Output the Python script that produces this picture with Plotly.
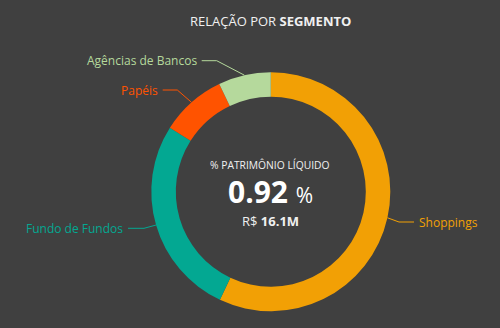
import math
import plotly.graph_objects as go

# ---- data ----
segments = ["Shoppings", "Fundo de Fundos", "Papéis", "Agências de Bancos"]
values = [57.0, 27.0, 8.9, 7.1]
colors = ["#F2A005", "#03A892", "#FF5300", "#B5D99C"]
title_light = "RELAÇÃO POR "
title_bold = "SEGMENTO"
center_label = "% PATRIMÔNIO LÍQUIDO"
center_value = "0.92"
center_money = "16.1M"

# ---- layout constants (pixels) ----
W, H = 500, 328
cx, cy, R = 270.8, 191.7, 119.5
hole = 0.795
FONT = "Open Sans"
BG = "#404040"
# elbow / label geometry per segment: (elbow_x, elbow_y, end_x, side)
label_geo = {
    "Shoppings": (399, 222, 414, "left"),
    "Fundo de Fundos": (144, 228.3, 128, "right"),
    "Papéis": (177.3, 90, 162.7, "right"),
    "Agências de Bancos": (216.7, 60.7, 201.7, "right"),
}

def px(x):
    return x / W

def py(y):
    return 1 - y / H

fig = go.Figure()
fig.add_trace(go.Pie(
    labels=segments, values=values, hole=hole, sort=False,
    direction="clockwise", rotation=0,
    marker=dict(colors=colors, line=dict(width=0)),
    textinfo="none", hoverinfo="label+percent", showlegend=False,
    domain=dict(x=[px(cx - R), px(cx + R)], y=[py(cy + R), py(cy - R)]),
))

shapes = []
annotations = []
total = sum(values)
acc = 0.0
for name, v, c in zip(segments, values, colors):
    mid = (acc + v / 2) / total * 2 * math.pi
    acc += v
    sx = cx + R * math.sin(mid)
    sy = cy - R * math.cos(mid)
    ex, ey, endx, side = label_geo[name]
    shapes.append(dict(type="path", xref="paper", yref="paper",
                       path=f"M {px(sx)},{py(sy)} L {px(ex)},{py(ey)} L {px(endx)},{py(ey)}",
                       line=dict(color=c, width=1)))
    tx = endx + 3 if side == "left" else endx - 3
    annotations.append(dict(x=px(tx), y=py(ey), xref="paper", yref="paper",
                            text=name, showarrow=False, xanchor=side, yanchor="middle",
                            font=dict(family=FONT, size=12, color=c)))

annotations += [
    dict(x=px(270), y=py(20.5), xref="paper", yref="paper", showarrow=False,
         text=f"{title_light}<b>{title_bold}</b>", xanchor="center", yanchor="middle",
         font=dict(family=FONT, size=13, color="#F0F0F0")),
    dict(x=px(270), y=py(165), xref="paper", yref="paper", showarrow=False,
         text=center_label, xanchor="center", yanchor="middle",
         font=dict(family=FONT, size=10.3, color="#F0F0F0")),
    dict(x=px(270), y=py(190.5), xref="paper", yref="paper", showarrow=False,
         text=f"<b>{center_value}</b> <span style='font-size:21px'>%</span>",
         xanchor="center", yanchor="middle", height=32,
         font=dict(family=FONT, size=30, color="#FFFFFF")),
    dict(x=px(270), y=py(221), xref="paper", yref="paper", showarrow=False,
         text=f"R$ <b>{center_money}</b>", xanchor="center", yanchor="middle",
         font=dict(family=FONT, size=13, color="#F0F0F0")),
]

fig.update_layout(width=W, height=H, margin=dict(l=0, r=0, t=0, b=0),
                  paper_bgcolor=BG, plot_bgcolor=BG,
                  shapes=shapes, annotations=annotations)
fig.write_html("out.html")
